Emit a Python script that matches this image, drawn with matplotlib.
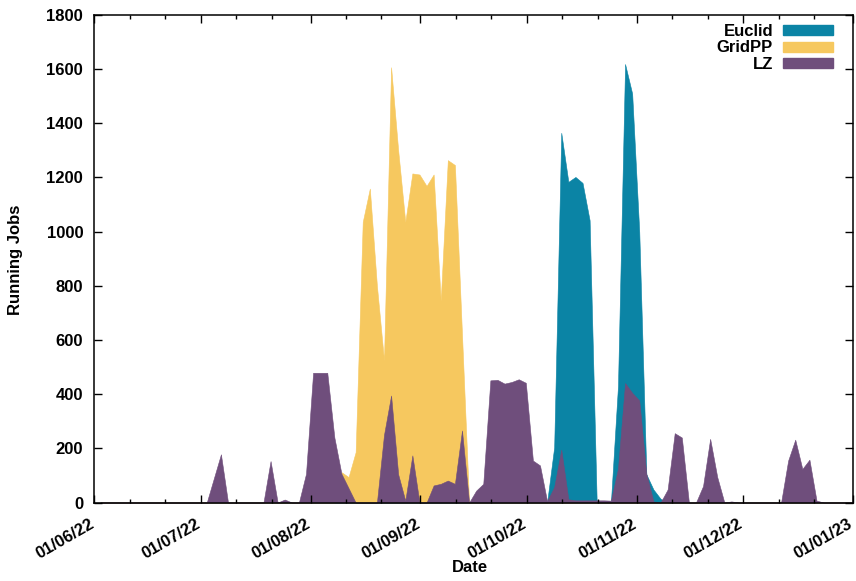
import matplotlib
matplotlib.use("Agg")
import matplotlib.pyplot as plt
import matplotlib.dates as mdates
import matplotlib.transforms as mtransforms
from matplotlib.patches import Patch
import numpy as np
import pandas as pd

plt.rcParams.update({
    "font.family": ["Liberation Sans", "DejaVu Sans"],
    "font.weight": "bold",
    "font.size": 12,
})

# samples every two days (107 points, 2022-06-02 .. 2022-12-31)
dates = pd.date_range("2022-06-02 17:00", periods=107, freq="2D")

euclid = [
    0, 0, 0, 0, 0, 0, 0, 0, 0, 0,
    0, 0, 0, 0, 0, 0, 0, 0, 0, 0,
    0, 0, 0, 0, 0, 0, 0, 0, 0, 0,
    0, 0, 0, 0, 0, 0, 0, 0, 0, 0,
    0, 0, 0, 0, 0, 0, 0, 0, 0, 0,
    0, 0, 0, 0, 0, 0, 0, 0, 0, 0,
    0, 0, 0, 0, 204, 1365, 1184, 1202, 1180, 1042,
    0, 0, 0, 430, 1619, 1510, 1000, 104, 48, 14,
    0, 0, 0, 0, 0, 0, 0, 0, 0, 0,
    0, 0, 0, 0, 0, 0, 0, 0, 0, 0,
    0, 0, 0, 0, 0, 0, 0,
]

gridpp = [
    0, 0, 0, 0, 0, 0, 0, 0, 0, 0,
    0, 0, 0, 0, 0, 0, 0, 0, 0, 0,
    0, 0, 0, 0, 0, 0, 0, 0, 0, 0,
    0, 0, 0, 0, 112, 94, 186, 1036, 1159, 800,
    525, 1607, 1300, 1036, 1215, 1211, 1169, 1211, 745, 1264,
    1246, 620, 0, 0, 0, 0, 0, 0, 0, 0,
    0, 0, 0, 0, 0, 0, 0, 0, 0, 0,
    0, 0, 0, 0, 0, 0, 0, 0, 0, 0,
    0, 0, 0, 0, 0, 0, 0, 0, 0, 0,
    0, 0, 0, 0, 0, 0, 0, 0, 0, 0,
    0, 0, 0, 0, 0, 0, 0,
]

lz = [
    0, 0, 0, 0, 0, 0, 0, 0, 0, 0,
    0, 0, 0, 0, 0, 0, 89, 178, 0, 0,
    0, 0, 0, 0, 153, 0, 11, 0, 0, 106,
    479, 479, 479, 240, 106, 53, 0, 0, 0, 0,
    250, 395, 104, 7, 174, 0, 0, 63, 69, 81,
    69, 266, 0, 44, 69, 451, 453, 439, 445, 455,
    442, 155, 137, 5, 57, 195, 12, 8, 8, 8,
    8, 8, 7, 125, 441, 405, 377, 106, 4, 0,
    48, 256, 240, 0, 0, 61, 235, 94, 0, 4,
    0, 0, 0, 0, 0, 0, 0, 155, 232, 124,
    158, 7, 0, 0, 0, 0, 0,
]

names = ["Euclid", "GridPP", "LZ"]
colors = ["#0b84a5", "#f6c85f", "#6f4e7c"]

fig = plt.figure(figsize=(8.56, 5.81), dpi=100)
ax = fig.add_axes([0.1102, 0.1351, 0.8863, 0.8391])

for vals, c in zip([euclid, gridpp, lz], colors):
    ax.fill_between(dates, 0, vals, color=c, linewidth=0.4, edgecolor=c)

ax.set_xlim(pd.Timestamp("2022-06-01"), pd.Timestamp("2023-01-01"))
ax.set_ylim(0, 1800)
ax.set_yticks(np.arange(0, 1801, 200))
ax.xaxis.set_major_locator(mdates.MonthLocator())
ax.xaxis.set_minor_locator(mdates.DayLocator(bymonthday=[11, 21]))
ax.xaxis.set_major_formatter(mdates.DateFormatter("%d/%m/%y"))

ax.tick_params(which="both", direction="in", top=True, right=True, width=1.0)
ax.tick_params(which="major", length=6)
ax.tick_params(which="minor", length=3)
ax.tick_params(axis="y", pad=8)
ax.tick_params(axis="x", pad=10)
shift = mtransforms.ScaledTranslation(-4 / 72, 0, fig.dpi_scale_trans)
for lab in ax.get_xticklabels():
    lab.set_rotation(30)
    lab.set_ha("right")
    lab.set_va("top")
    lab.set_rotation_mode("anchor")
    lab.set_transform(lab.get_transform() + shift)
for s in ax.spines.values():
    s.set_linewidth(1.1)

fig.text(470 / 856, 1 - 568 / 581, "Date", ha="center", va="center")
fig.text(16 / 856, 1 - 260 / 581, "Running Jobs", rotation=90,
         ha="center", va="center")

handles = [Patch(facecolor=c, edgecolor=c) for c in colors]
ax.legend(handles, names, loc="upper right", bbox_to_anchor=(0.9737, 0.982),
          frameon=False, markerfirst=False, handlelength=3.0, handleheight=0.55,
          handletextpad=0.6, labelspacing=0.1, borderpad=0, borderaxespad=0)

fig.savefig("out.png", dpi=100)
